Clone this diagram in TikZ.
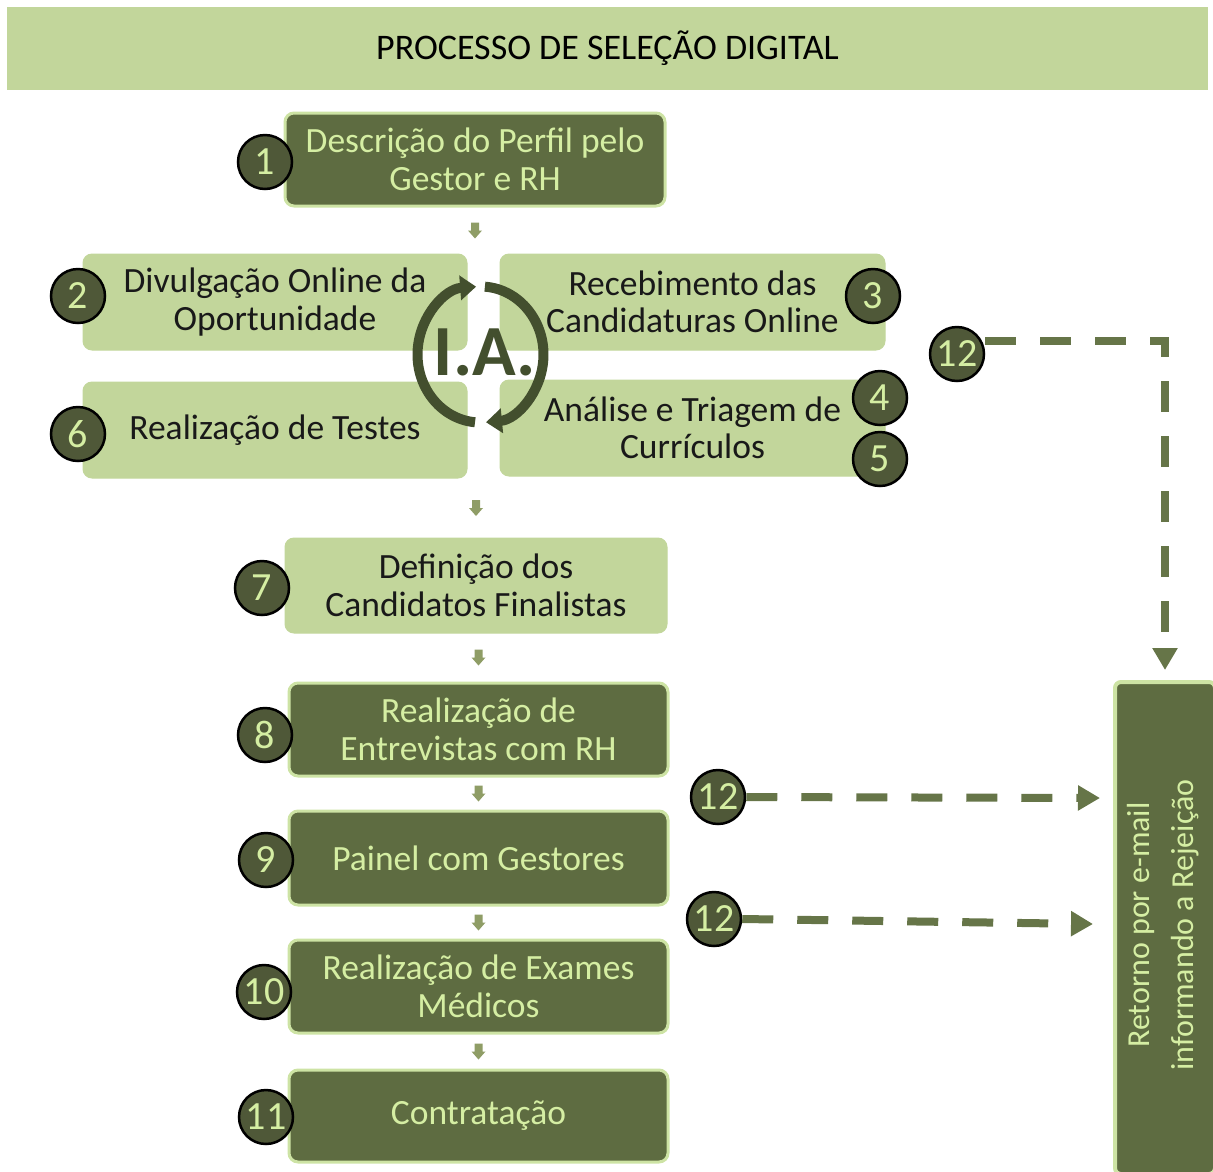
\documentclass[tikz,border=0pt]{standalone}
\usepackage{fontspec}
\setmainfont{Carlito}
\usetikzlibrary{arrows.meta,calc}
\definecolor{lightg}{HTML}{C2D69B}
\definecolor{darkg}{HTML}{5E6C41}
\definecolor{circg}{HTML}{4F5838}
\definecolor{txtl}{HTML}{D5EEA3}
\definecolor{edgel}{HTML}{CDE3A4}
\definecolor{dashc}{HTML}{667548}
\definecolor{arrc}{HTML}{8F9D66}
\definecolor{iac}{HTML}{434F2E}
\newcommand\smalldown[1]{\fill[arrc] (#1) ++(-4,-8) -- ++(8,0) -- ++(0,8) -- ++(3,0) -- ++(-7,8) -- ++(-7,-8) -- ++(3,0) -- cycle;}
\begin{document}
\begin{tikzpicture}[x=1pt,y=-1pt,
  boxtxt/.style={align=center, font=\fontsize{35.5}{37.5}\selectfont, inner sep=0pt, rounded corners=9pt},
  darkbox/.style={boxtxt, fill=darkg, draw=edgel, line width=3pt, text=txtl},
  lightbox/.style={boxtxt, fill=lightg, draw=lightg, line width=1pt, text=black!90},
  num/.style={circle, fill=circg, draw=black, line width=2.5pt, minimum size=54pt, inner sep=0pt, text=txtl, font=\fontsize{40}{40}\selectfont},
  dsh/.style={draw=dashc, line width=8pt, dash pattern=on 31pt off 24pt},
  dtip/.style={-{Triangle[length=22pt,width=24pt]}},
  ring/.style={draw=iac, line width=10pt, -{Triangle[length=16pt,width=24pt]}}
]
\useasboundingbox (0,0) rectangle (1213,1171);

% title
\node[fill=lightg, minimum width=1201pt, minimum height=83pt, inner sep=0pt,
      font=\fontsize{36}{40}\selectfont, text=black] (title) at (607.5,48.5) {PROCESSO DE SELEÇÃO DIGITAL};

% boxes
\node[darkbox, minimum width=380pt, minimum height=93pt] (b1) at (475,159.5) {Descrição do Perfil pelo\\Gestor e RH};
\node[lightbox, minimum width=384pt, minimum height=96pt] (b2) at (275,302) {Divulgação Online da\\Oportunidade};
\node[lightbox, minimum width=385pt, minimum height=96pt] (b3) at (692.5,302) {Recebimento das\\Candidaturas Online};
\node[lightbox, minimum width=384pt, minimum height=96pt] (b6) at (275,430) {Realização de Testes};
\node[lightbox, minimum width=385pt, minimum height=96pt] (b4) at (692.5,428) {Análise e Triagem de\\Currículos};
\node[lightbox, minimum width=382pt, minimum height=95pt] (b7) at (476,585.5) {Definição dos\\Candidatos Finalistas};
\node[darkbox, minimum width=379pt, minimum height=93pt] (b8) at (478.5,729.5) {Realização de\\Entrevistas com RH};
\node[darkbox, minimum width=379pt, minimum height=94pt] (b9) at (478.5,858) {Painel com Gestores};
\node[darkbox, minimum width=379pt, minimum height=93pt] (b10) at (478.5,986.5) {Realização de Exames\\Médicos};
\node[darkbox, minimum width=379pt, minimum height=92pt] (b11) at (478.5,1116) {Contratação};
\node[darkbox, line width=4pt, minimum width=100pt, minimum height=492pt, rounded corners=6pt] (rb) at (1165,928) {};
\node[rotate=90, text=txtl, align=center, font=\fontsize{32}{44}\selectfont] (rbt) at (1163,925) {Retorno por e-mail\\informando a Rejeição};

% I.A. cycle
\coordinate (ia) at (480.5,354.5);
\draw[ring] (ia) ++(95:63 and 68) arc[start angle=95, end angle=266, x radius=63, y radius=68];
\draw[ring] (ia) ++(274:63 and 68) arc[start angle=274, end angle=445, x radius=63, y radius=68];
\node[anchor=base, text=iac, font=\fontsize{72}{72}\selectfont\bfseries, inner sep=0pt] (iat) at (485,375) {I.A.};

% small flow arrows
\path ($(b1.south)!0.5!(b1.south |- b2.north)$) coordinate (a1);
\path ($(b6.south -| b7.north)!0.5!(b7.north)$) coordinate (a2);
\path ($(b7.south -| b8.north)!0.5!(b8.north)$) coordinate (a3);
\path ($(b8.south)!0.5!(b9.north)$) coordinate (a4);
\path ($(b9.south)!0.5!(b10.north)$) coordinate (a5);
\path ($(b10.south)!0.5!(b11.north)$) coordinate (a6);
\foreach \a in {a1,a2,a3,a4,a5,a6} {\smalldown{\a}}

% number circles
\node[num] (n1) at (265,162) {1};
\node[num] (n2) at (78,296) {2};
\node[num] (n3) at (873,296) {3};
\node[num] (n6) at (78,434) {6};
\node[num] (n4) at (880,398) {4};
\node[num] (n5) at (880,459) {5};
\node[num] (n7) at (262,588) {7};
\node[num] (n8) at (265,735) {8};
\node[num] (n9) at (266,860) {9};
\node[num] (n10) at (264,992) {10};
\node[num] (n11) at (266,1117) {11};
\node[num] (n12a) at (957,354) {12};
\node[num] (n12b) at (718,797) {12};
\node[num] (n12c) at (714,919) {12};

% dashed rejection connectors
\coordinate (c12) at (1165,341);
\coordinate (e12b) at (1100,798);
\coordinate (e12c) at (1093,924);
\draw[dsh, dtip, shorten >=10pt] ($(n12a.center)+(28,-13)$) -- (c12) -- (rb.north);
\draw[dsh, dtip] (n12b.east) -- (e12b);
\draw[dsh, dtip] (n12c.east) -- (e12c);
\end{tikzpicture}
\end{document}
